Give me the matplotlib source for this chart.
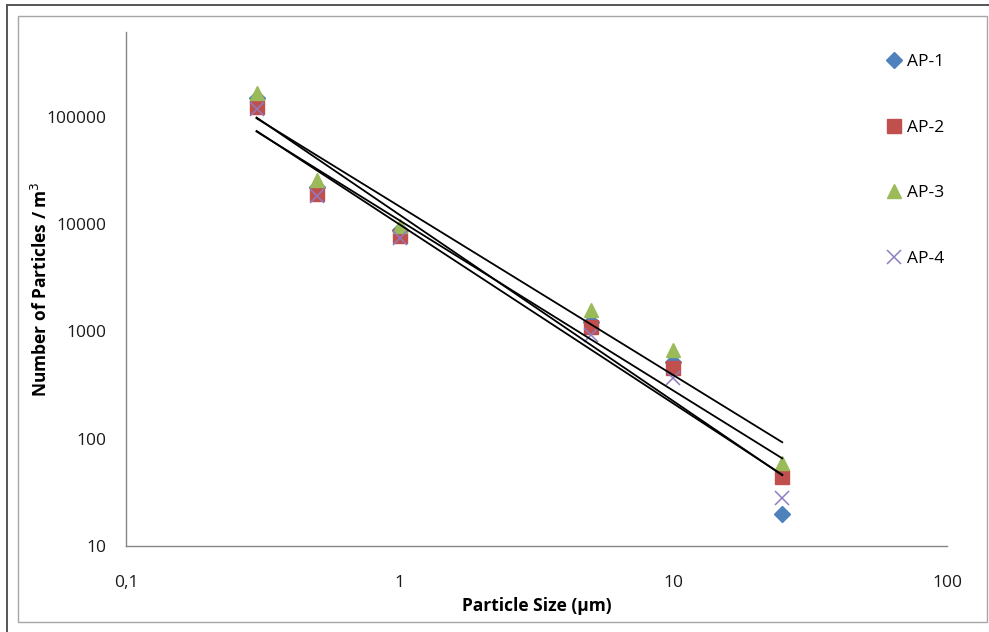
import numpy as np
import matplotlib
matplotlib.use("Agg")
import matplotlib.pyplot as plt
from matplotlib.lines import Line2D
from matplotlib.patches import Rectangle

# Particle sizes (µm) and counts per m³ for each sampling point
sizes = [0.3, 0.5, 1, 5, 10, 25]
ap1 = [150000, 22000, 8800, 1230, 520, 20]
ap2 = [123000, 19000, 7700, 1100, 455, 44]
ap3 = [166000, 25800, 9600, 1590, 670, 59]
ap4 = [117000, 18300, 7400, 930, 370, 28]
series_names = ["AP-1", "AP-2", "AP-3", "AP-4"]
x_ticks = [0.1, 1, 10, 100]
x_tick_labels = ["0,1", "1", "10", "100"]
y_ticks = [10, 100, 1000, 10000, 100000]
y_tick_labels = ["10", "100", "1000", "10000", "100000"]

plt.rcParams["font.family"] = ["Open Sans", "DejaVu Sans"]
FS = 12.5

W, H = 989, 632
fig = plt.figure(figsize=(W / 100, H / 100), dpi=100)

# chart frame lines
fig.add_artist(Line2D([7 / W, 7 / W], [0, 1 - 5 / H], transform=fig.transFigure,
                      color="#555555", lw=1.4))
fig.add_artist(Line2D([7 / W, 1], [1 - 5 / H, 1 - 5 / H], transform=fig.transFigure,
                      color="#555555", lw=1.4))
fig.add_artist(Rectangle((18 / W, 1 - 622 / H), (987 - 18) / W, (622 - 16) / H,
                         transform=fig.transFigure, fill=False,
                         edgecolor="#a6a6a6", lw=1.0))

left, right, top, bottom = 126, 947, 32, 546
ax = fig.add_axes([left / W, 1 - bottom / H, (right - left) / W, (bottom - top) / H])
ax.set_xscale("log")
ax.set_yscale("log")
ax.set_xlim(0.1, 100)
ax.set_ylim(10, 10 ** (1 + (bottom - top) / 107.3))

styles = [
    dict(marker="D", color="#4F81BD", ms=8.5, mec="#4F81BD"),
    dict(marker="s", color="#C0504D", ms=9.5, mec="#C0504D"),
    dict(marker="^", color="#9BBB59", ms=10.5, mec="#9BBB59"),
    dict(marker="x", color="#8E7CC3", ms=9.5, mew=1.1),
]
data = [ap1, ap2, ap3, ap4]
handles = []
for name, vals, st in zip(series_names, data, styles):
    h, = ax.plot(sizes, vals, linestyle="none", label=name, **st, zorder=3)
    handles.append(h)

# power-law trendlines (least squares in log-log space)
lx = np.log10(sizes)
for vals in data:
    slope, icpt = np.polyfit(lx, np.log10(vals), 1)
    xs = np.array([min(sizes), max(sizes)])
    ax.plot(xs, 10 ** (icpt + slope * np.log10(xs)), color="black", lw=1.3, zorder=4)

for s in ["top", "right"]:
    ax.spines[s].set_visible(False)
for s in ["left", "bottom"]:
    ax.spines[s].set_color("#868686")
    ax.spines[s].set_linewidth(1.0)

ax.set_xticks(x_ticks)
ax.set_xticklabels(x_tick_labels)
ax.set_yticks(y_ticks)
ax.set_yticklabels(y_tick_labels)
ax.xaxis.set_minor_locator(matplotlib.ticker.NullLocator())
ax.yaxis.set_minor_locator(matplotlib.ticker.NullLocator())
ax.tick_params(axis="both", length=0, labelsize=FS, colors="#1a1a1a")
ax.tick_params(axis="x", pad=21)
ax.tick_params(axis="y", pad=14)

ax.set_xlabel("Particle Size (µm)", fontsize=FS, fontweight="bold")
ax.set_ylabel("Number of Particles / m$^3$", fontsize=FS, fontweight="bold")
ax.xaxis.label.set_va("center")
ax.yaxis.label.set_va("center")
ax.xaxis.set_label_coords(0.5, -(606 - bottom) / (bottom - top))
ax.yaxis.set_label_coords(-(left - 41) / (right - left), 0.5)

leg = ax.legend(handles=handles, loc="upper left", bbox_to_anchor=(887 / W, 1 - 54 / H),
                bbox_transform=fig.transFigure, frameon=False, fontsize=FS,
                handlelength=0.8, handletextpad=0.35, labelspacing=2.85,
                borderaxespad=0, borderpad=0)

fig.savefig("out.png", dpi=100, facecolor="white")
